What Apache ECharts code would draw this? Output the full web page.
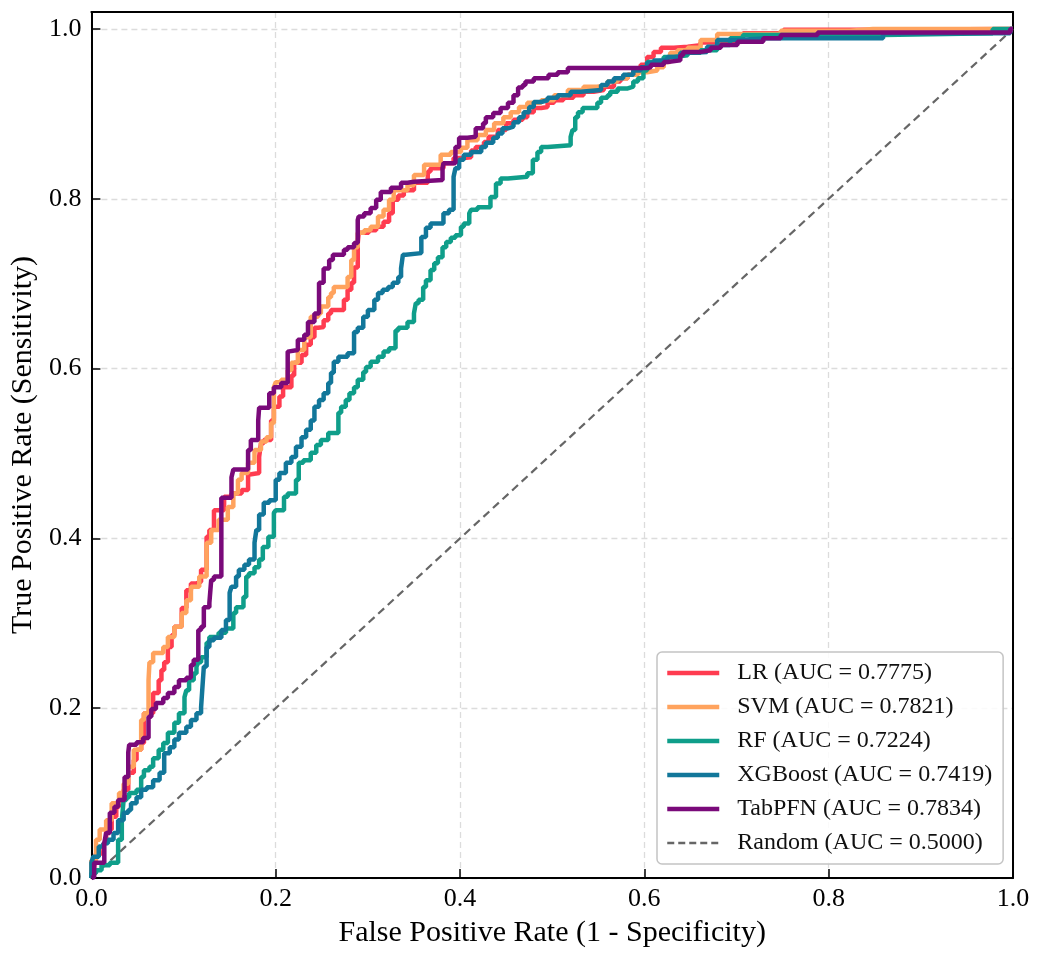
<!DOCTYPE html>
<html>
<head>
<meta charset="utf-8">
<script src="https://cdn.jsdelivr.net/npm/echarts@6/dist/echarts.min.js"></script>
<style>
  html, body { margin: 0; padding: 0; background: #fff; }
  #roc { width: 1039px; height: 956px; }
</style>
</head>
<body>
<div id="roc"></div>
<script>
// ROC points [fpr, tpr]
const lrRoc = [[0,0],[0.003,0.009],[0.005,0.013],[0.013,0.029],[0.016,0.041],[0.022,0.057],[0.027,0.072],[0.030,0.084],[0.035,0.092],[0.040,0.104],[0.046,0.124],[0.049,0.139],[0.054,0.151],[0.057,0.159],[0.067,0.194],[0.067,0.206],[0.073,0.218],[0.076,0.233],[0.079,0.245],[0.083,0.254],[0.087,0.272],[0.090,0.286],[0.098,0.296],[0.103,0.318],[0.108,0.339],[0.114,0.347],[0.119,0.349],[0.125,0.363],[0.128,0.402],[0.133,0.410],[0.144,0.433],[0.152,0.449],[0.163,0.453],[0.170,0.457],[0.171,0.475],[0.182,0.477],[0.184,0.496],[0.187,0.512],[0.195,0.516],[0.198,0.539],[0.204,0.555],[0.208,0.567],[0.217,0.578],[0.220,0.592],[0.228,0.607],[0.233,0.616],[0.238,0.628],[0.242,0.637],[0.246,0.648],[0.252,0.649],[0.257,0.657],[0.260,0.665],[0.274,0.669],[0.278,0.681],[0.282,0.693],[0.285,0.701],[0.289,0.719],[0.290,0.748],[0.301,0.760],[0.309,0.763],[0.317,0.767],[0.323,0.773],[0.327,0.783],[0.333,0.799],[0.339,0.804],[0.350,0.810],[0.365,0.819],[0.368,0.832],[0.382,0.836],[0.393,0.842],[0.404,0.848],[0.412,0.849],[0.417,0.857],[0.426,0.861],[0.431,0.867],[0.441,0.873],[0.450,0.881],[0.458,0.889],[0.468,0.893],[0.473,0.896],[0.480,0.902],[0.488,0.907],[0.495,0.908],[0.502,0.913],[0.512,0.916],[0.523,0.919],[0.534,0.922],[0.545,0.926],[0.556,0.928],[0.567,0.932],[0.574,0.938],[0.582,0.942],[0.588,0.946],[0.596,0.951],[0.603,0.958],[0.610,0.967],[0.618,0.973],[0.632,0.978],[0.647,0.979],[0.661,0.981],[0.679,0.984],[0.707,0.985],[0.751,0.995],[0.848,0.999],[1,1]];
const svmRoc = [[0,0],[0.005,0.021],[0.009,0.045],[0.016,0.057],[0.022,0.068],[0.030,0.088],[0.035,0.100],[0.040,0.111],[0.046,0.131],[0.054,0.151],[0.057,0.186],[0.062,0.194],[0.063,0.233],[0.067,0.254],[0.078,0.265],[0.083,0.272],[0.090,0.284],[0.098,0.296],[0.103,0.312],[0.108,0.327],[0.117,0.343],[0.125,0.355],[0.130,0.395],[0.138,0.410],[0.148,0.422],[0.154,0.437],[0.159,0.453],[0.163,0.469],[0.170,0.477],[0.177,0.489],[0.184,0.504],[0.190,0.514],[0.195,0.519],[0.198,0.536],[0.200,0.578],[0.206,0.584],[0.213,0.587],[0.217,0.598],[0.224,0.607],[0.231,0.622],[0.238,0.637],[0.246,0.661],[0.249,0.665],[0.257,0.673],[0.260,0.684],[0.263,0.689],[0.278,0.696],[0.282,0.708],[0.285,0.728],[0.289,0.743],[0.296,0.760],[0.303,0.763],[0.311,0.767],[0.317,0.779],[0.323,0.787],[0.328,0.799],[0.343,0.810],[0.350,0.816],[0.361,0.828],[0.365,0.840],[0.379,0.840],[0.390,0.852],[0.401,0.855],[0.408,0.860],[0.419,0.869],[0.428,0.875],[0.437,0.881],[0.447,0.889],[0.455,0.896],[0.464,0.902],[0.473,0.908],[0.488,0.913],[0.502,0.916],[0.517,0.922],[0.534,0.928],[0.549,0.932],[0.560,0.934],[0.571,0.938],[0.582,0.942],[0.593,0.946],[0.603,0.949],[0.614,0.951],[0.621,0.955],[0.628,0.961],[0.636,0.972],[0.647,0.975],[0.661,0.978],[0.679,0.987],[0.748,0.994],[0.823,0.998],[0.848,1],[1,1]];
const rfRoc = [[0,0],[0.005,0.006],[0.011,0.009],[0.020,0.015],[0.029,0.018],[0.029,0.033],[0.033,0.045],[0.035,0.068],[0.038,0.092],[0.041,0.095],[0.049,0.100],[0.054,0.104],[0.057,0.119],[0.063,0.127],[0.067,0.131],[0.073,0.141],[0.078,0.151],[0.083,0.159],[0.090,0.171],[0.095,0.183],[0.101,0.194],[0.103,0.213],[0.106,0.221],[0.111,0.233],[0.114,0.241],[0.116,0.249],[0.119,0.254],[0.125,0.260],[0.128,0.277],[0.138,0.284],[0.146,0.289],[0.154,0.294],[0.157,0.312],[0.165,0.319],[0.168,0.331],[0.171,0.355],[0.177,0.359],[0.182,0.366],[0.186,0.375],[0.192,0.390],[0.198,0.402],[0.200,0.430],[0.209,0.433],[0.213,0.449],[0.222,0.453],[0.225,0.469],[0.230,0.489],[0.238,0.492],[0.244,0.501],[0.249,0.510],[0.257,0.516],[0.268,0.524],[0.271,0.548],[0.276,0.555],[0.280,0.563],[0.285,0.571],[0.289,0.578],[0.295,0.587],[0.298,0.596],[0.303,0.602],[0.311,0.608],[0.317,0.614],[0.323,0.620],[0.330,0.624],[0.333,0.645],[0.343,0.648],[0.350,0.655],[0.352,0.665],[0.355,0.677],[0.360,0.681],[0.363,0.696],[0.368,0.704],[0.372,0.716],[0.376,0.724],[0.381,0.731],[0.385,0.743],[0.390,0.749],[0.395,0.754],[0.401,0.757],[0.404,0.767],[0.410,0.771],[0.412,0.783],[0.419,0.787],[0.433,0.790],[0.439,0.802],[0.444,0.818],[0.452,0.824],[0.473,0.826],[0.479,0.830],[0.484,0.846],[0.488,0.855],[0.495,0.861],[0.520,0.863],[0.522,0.873],[0.525,0.881],[0.528,0.896],[0.533,0.902],[0.549,0.907],[0.553,0.913],[0.560,0.919],[0.563,0.922],[0.571,0.926],[0.582,0.930],[0.588,0.932],[0.593,0.938],[0.599,0.942],[0.603,0.951],[0.610,0.961],[0.621,0.963],[0.632,0.967],[0.647,0.969],[0.661,0.972],[0.679,0.975],[0.693,0.981],[0.707,0.989],[0.859,0.993],[0.978,0.995],[1,1]];
const xgbRoc = [[0,0],[0.002,0.018],[0.008,0.025],[0.013,0.037],[0.018,0.041],[0.024,0.045],[0.029,0.053],[0.035,0.068],[0.040,0.077],[0.043,0.080],[0.049,0.088],[0.054,0.095],[0.060,0.104],[0.067,0.107],[0.074,0.115],[0.079,0.124],[0.079,0.139],[0.085,0.147],[0.090,0.154],[0.095,0.163],[0.103,0.171],[0.108,0.178],[0.114,0.186],[0.119,0.194],[0.121,0.201],[0.122,0.233],[0.125,0.249],[0.128,0.272],[0.133,0.280],[0.141,0.283],[0.146,0.292],[0.150,0.304],[0.152,0.336],[0.157,0.343],[0.160,0.355],[0.166,0.363],[0.171,0.369],[0.177,0.375],[0.179,0.395],[0.182,0.410],[0.187,0.428],[0.193,0.442],[0.200,0.445],[0.204,0.469],[0.211,0.477],[0.217,0.489],[0.222,0.496],[0.228,0.508],[0.233,0.519],[0.238,0.528],[0.242,0.539],[0.247,0.555],[0.252,0.563],[0.257,0.571],[0.260,0.583],[0.263,0.595],[0.268,0.608],[0.278,0.614],[0.285,0.618],[0.289,0.643],[0.295,0.648],[0.300,0.661],[0.307,0.669],[0.311,0.681],[0.316,0.689],[0.322,0.693],[0.327,0.696],[0.333,0.701],[0.336,0.708],[0.338,0.718],[0.341,0.734],[0.358,0.736],[0.363,0.755],[0.368,0.766],[0.382,0.771],[0.388,0.783],[0.393,0.787],[0.395,0.826],[0.399,0.836],[0.404,0.846],[0.412,0.852],[0.423,0.855],[0.428,0.861],[0.436,0.866],[0.441,0.872],[0.446,0.877],[0.452,0.883],[0.458,0.885],[0.464,0.890],[0.469,0.896],[0.475,0.902],[0.480,0.908],[0.488,0.914],[0.495,0.916],[0.506,0.919],[0.520,0.922],[0.531,0.926],[0.553,0.928],[0.560,0.934],[0.567,0.938],[0.577,0.942],[0.588,0.946],[0.596,0.951],[0.603,0.955],[0.610,0.960],[0.625,0.963],[0.639,0.967],[0.653,0.972],[0.668,0.973],[0.679,0.979],[0.701,0.987],[0.733,0.989],[0.859,0.989],[0.861,0.995],[0.997,0.995],[1,1]];
const tabpfnRoc = [[0,0],[0.003,0.001],[0.014,0.018],[0.016,0.041],[0.020,0.053],[0.025,0.077],[0.029,0.084],[0.036,0.092],[0.040,0.119],[0.041,0.148],[0.049,0.157],[0.056,0.160],[0.062,0.165],[0.065,0.190],[0.070,0.199],[0.078,0.206],[0.083,0.212],[0.090,0.218],[0.095,0.225],[0.103,0.233],[0.108,0.236],[0.111,0.251],[0.116,0.257],[0.119,0.292],[0.122,0.296],[0.128,0.319],[0.130,0.324],[0.133,0.351],[0.141,0.355],[0.141,0.448],[0.152,0.448],[0.154,0.472],[0.170,0.481],[0.173,0.504],[0.181,0.516],[0.182,0.539],[0.193,0.554],[0.198,0.571],[0.206,0.578],[0.213,0.583],[0.213,0.620],[0.224,0.622],[0.231,0.634],[0.235,0.640],[0.242,0.655],[0.247,0.665],[0.252,0.701],[0.258,0.718],[0.262,0.728],[0.274,0.734],[0.278,0.740],[0.285,0.743],[0.289,0.748],[0.290,0.775],[0.296,0.779],[0.303,0.783],[0.309,0.789],[0.314,0.799],[0.325,0.808],[0.336,0.813],[0.343,0.819],[0.350,0.820],[0.381,0.822],[0.382,0.836],[0.395,0.842],[0.399,0.861],[0.408,0.872],[0.417,0.873],[0.425,0.883],[0.428,0.889],[0.436,0.896],[0.444,0.901],[0.452,0.907],[0.458,0.913],[0.463,0.922],[0.468,0.931],[0.471,0.934],[0.480,0.938],[0.496,0.942],[0.506,0.946],[0.517,0.949],[0.528,0.954],[0.603,0.954],[0.607,0.955],[0.621,0.958],[0.625,0.961],[0.639,0.963],[0.642,0.969],[0.661,0.973],[0.672,0.975],[0.683,0.978],[0.701,0.981],[0.729,0.985],[0.748,0.989],[0.788,0.993],[0.848,0.996],[0.997,0.996],[1,1]];
const randomRoc = [[0,0],[1,1]];

const modelNames = ["LR (AUC = 0.7775)", "SVM (AUC = 0.7821)", "RF (AUC = 0.7224)", "XGBoost (AUC = 0.7419)", "TabPFN (AUC = 0.7834)"];
const randomName = "Random (AUC = 0.5000)";
const modelColors = ["#ff3c50", "#ffa35e", "#0f9e8a", "#12779a", "#7a0a7a"];
const tickValues = [0, 0.2, 0.4, 0.6, 0.8, 1.0];

const serif = "'Liberation Serif', 'DejaVu Serif', serif";
const chart = echarts.init(document.getElementById("roc"));

const curves = [lrRoc, svmRoc, rfRoc, xgbRoc, tabpfnRoc];
const series = curves.map((pts, i) => ({
  name: modelNames[i],
  type: "line",
  data: pts,
  step: "start",
  symbol: "none",
  showSymbol: false,
  z: 3 + i,
  lineStyle: { color: modelColors[i], width: 4.5 },
  itemStyle: { color: modelColors[i] }
}));
series.push({
  name: randomName,
  type: "line",
  data: randomRoc,
  symbol: "none",
  showSymbol: false,
  z: 2,
  lineStyle: { color: "#666", width: 2.2, type: [8, 5] },
  itemStyle: { color: "#666" }
});

function axisBase() {
  return {
    type: "value",
    nameLocation: "middle",
    nameTextStyle: { fontFamily: serif, fontSize: 30, color: "#000" },
    axisLine: { show: true, lineStyle: { color: "#000", width: 2 } },
    axisTick: { show: true, inside: true, length: 9, customValues: tickValues, lineStyle: { color: "#000", width: 1.5 } },
    axisLabel: {
      customValues: tickValues,
      fontFamily: serif, fontSize: 26, color: "#000",
      formatter: v => v.toFixed(1)
    },
    splitLine: { show: true, lineStyle: { color: "#dcdcdc", width: 1.3, type: [6, 4] } }
  };
}

// plain frame lines for the top and right sides
function frameAxis(pos, extra) {
  return Object.assign({
    type: "value", position: pos,
    axisLine: { show: true, onZero: false, lineStyle: { color: "#000", width: 2 } },
    axisTick: { show: false }, axisLabel: { show: false }, splitLine: { show: false }
  }, extra);
}

const legendItems = modelNames.map(n => ({ name: n, lineStyle: { width: 4.5 } }))
  .concat([{ name: randomName, lineStyle: { width: 2.5, type: [7, 4] } }]);

chart.setOption({
  animation: false,
  backgroundColor: "#fff",
  grid: { left: 90, right: 26, top: 12, bottom: 78 },
  xAxis: [
    Object.assign(axisBase(), {
      min: 0, max: 1, interval: 0.2,
      name: "False Positive Rate (1 - Specificity)",
      nameGap: 40
    }),
    frameAxis("top", { min: 0, max: 1 })
  ],
  yAxis: [
    Object.assign(axisBase(), {
      min: 0, max: 1.02, interval: 0.2,
      name: "True Positive Rate (Sensitivity)",
      nameGap: 47,
      axisLabel: Object.assign(axisBase().axisLabel, { margin: 10 })
    }),
    frameAxis("right", { min: 0, max: 1.02 })
  ],
  legend: {
    orient: "vertical",
    left: 657, top: 652,
    padding: [9, 11, 9, 8],
    itemWidth: 52, itemHeight: 14, itemGap: 10,
    data: legendItems,
    itemStyle: { opacity: 0 },
    textStyle: { fontFamily: serif, fontSize: 24, color: "#111", lineHeight: 24, padding: [0, 0, 0, 13] },
    backgroundColor: "rgba(255,255,255,0.85)",
    borderColor: "#c4c4c4", borderWidth: 1.5, borderRadius: 5
  },
  series: series
});
</script>
</body>
</html>
